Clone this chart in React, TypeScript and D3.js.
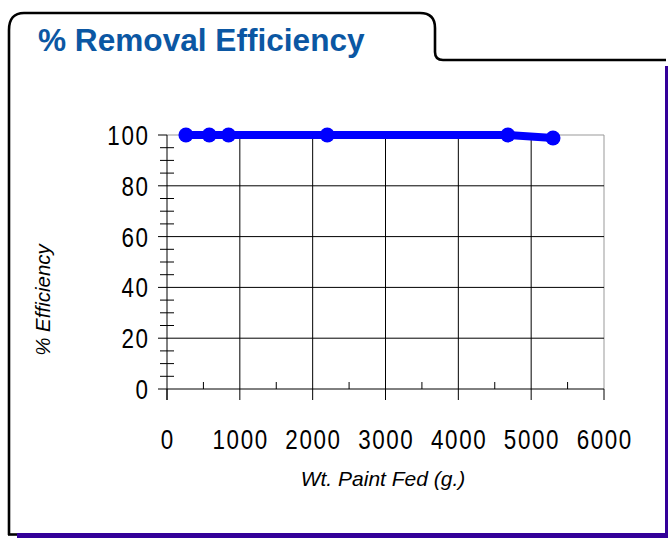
import React from "react";
import { scaleLinear, line, range } from "d3";

// values
const paintFed = [260, 580, 845, 2200, 4680, 5300];
const efficiency = [100, 100, 100, 100, 100, 98.8];
const xTicks = [0, 1000, 2000, 3000, 4000, 5000, 6000];
const yTicks = [0, 20, 40, 60, 80, 100];

const W = 668,
  H = 538;
const plot = { left: 167, right: 604, top: 135, bottom: 389 };

const textFont = "'Liberation Sans', Arial, sans-serif";

// tall narrow digits, like the old chart font
const Num = ({ x, y, anchor, children }: { x: number; y: number; anchor: string; children: any }) => (
  <g transform={`translate(${x},${y}) scale(0.8,1)`}>
    <text
      textAnchor={anchor}
      fontFamily={textFont}
      fontSize={28}
      letterSpacing={2}
      fill="#000"
    >
      {children}
    </text>
  </g>
);

const App = () => {
  const x = scaleLinear().domain([0, 6000]).range([plot.left, plot.right]);
  const y = scaleLinear().domain([0, 100]).range([plot.bottom, plot.top]);

  const xMinor = range(500, 6000, 1000);
  const yMinor = range(5, 100, 5).filter((v) => v % 20 !== 0);

  const path = line<number>()
    .x((d, i) => x(paintFed[i]))
    .y((d) => y(d))(efficiency);

  // folder-tab frame
  const frame =
    "M9,535 L9,30 Q9,13 24,13 L420,13 Q435,13 435,28 L435,52 Q435,60 443,60 L666,60";

  return (
    <svg
      width={W}
      height={H}
      style={{ position: "absolute", left: 0, top: 0, background: "#fff" }}
    >
      {/* shadow edges */}
      <rect x={665} y={66} width={4} height={472} fill="#330099" />
      <rect x={17} y={533} width={652} height={5} fill="#330099" />
      <path d={frame} fill="none" stroke="#000" strokeWidth={2.6} />
      <line x1={8} x2={17} y1={534.5} y2={534.5} stroke="#000" strokeWidth={2.6} />

      <text
        x={38}
        y={51}
        fontFamily={textFont}
        fontWeight="bold"
        fontSize={31.6}
        fill="#0b57a3"
      >
        % Removal Efficiency
      </text>

      {/* plot frame (top / right) */}
      <line x1={plot.left} x2={plot.right} y1={plot.top} y2={plot.top} stroke="#999" />
      <line x1={plot.right} x2={plot.right} y1={plot.top} y2={plot.bottom} stroke="#999" />

      {/* horizontal gridlines + major y ticks */}
      {yTicks.map((t) => (
        <g key={"y" + t}>
          {t > 0 && t < 100 && (
            <line x1={158} x2={plot.right} y1={y(t)} y2={y(t)} stroke="#000" />
          )}
          {t === 100 && <line x1={158} x2={plot.left} y1={y(t)} y2={y(t)} stroke="#000" />}
          <Num x={149.5} y={y(t) + 10} anchor="end">
            {t}
          </Num>
        </g>
      ))}
      {yMinor.map((t) => (
        <line key={"ym" + t} x1={160} x2={174} y1={y(t)} y2={y(t)} stroke="#000" />
      ))}

      {/* vertical gridlines + major x ticks */}
      {xTicks.map((t) => (
        <g key={"x" + t}>
          {t > 0 && t < 6000 && (
            <line x1={x(t)} x2={x(t)} y1={plot.top} y2={plot.bottom} stroke="#000" />
          )}
          <line x1={x(t)} x2={x(t)} y1={plot.bottom} y2={plot.bottom + 11} stroke="#000" />
          <Num x={x(t) + 0.8} y={449} anchor="middle">
            {t}
          </Num>
        </g>
      ))}
      {xMinor.map((t) => (
        <line key={"xm" + t} x1={x(t)} x2={x(t)} y1={plot.bottom - 7} y2={plot.bottom} stroke="#000" />
      ))}

      {/* axes */}
      <line x1={158} x2={plot.right} y1={plot.bottom} y2={plot.bottom} stroke="#000" />
      <line x1={plot.left} x2={plot.left} y1={plot.top} y2={plot.bottom + 11} stroke="#000" />

      {/* series */}
      <path d={path ?? ""} fill="none" stroke="#0000ff" strokeWidth={8} strokeLinejoin="round" />
      {efficiency.map((v, i) => (
        <circle key={i} cx={x(paintFed[i])} cy={y(v)} r={7.5} fill="#0000ff" />
      ))}

      {/* axis titles */}
      <text
        transform="translate(50,300) rotate(-90)"
        textAnchor="middle"
        fontFamily={textFont}
        fontStyle="italic"
        fontSize={20.5}
        fill="#000"
      >
        % Efficiency
      </text>
      <text
        x={383}
        y={486}
        textAnchor="middle"
        fontFamily={textFont}
        fontStyle="italic"
        fontSize={21}
        fill="#000"
      >
        Wt. Paint Fed (g.)
      </text>
    </svg>
  );
};

export default App;
